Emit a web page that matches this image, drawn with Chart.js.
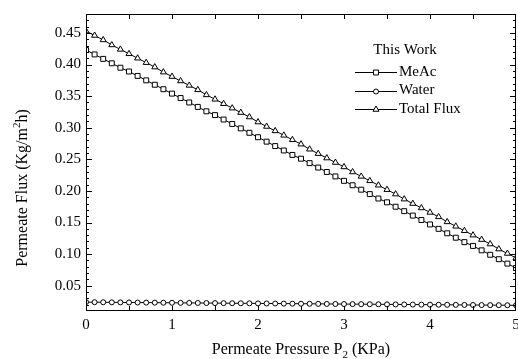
<!DOCTYPE html>
<html>
<head>
<meta charset="utf-8">
<script src="https://cdn.jsdelivr.net/npm/chart.js"></script>
<style>
  html, body { margin: 0; padding: 0; background: #fff; }
  #chart { display: block; }
</style>
</head>
<body>
<canvas id="chart" width="518" height="359"></canvas>
<script>
// permeate pressure P2 (KPa), one point every 0.1
const pressure = [
  0.0, 0.1, 0.2, 0.3, 0.4, 0.5, 0.6, 0.7, 0.8, 0.9,
  1.0, 1.1, 1.2, 1.3, 1.4, 1.5, 1.6, 1.7, 1.8, 1.9,
  2.0, 2.1, 2.2, 2.3, 2.4, 2.5, 2.6, 2.7, 2.8, 2.9,
  3.0, 3.1, 3.2, 3.3, 3.4, 3.5, 3.6, 3.7, 3.8, 3.9,
  4.0, 4.1, 4.2, 4.3, 4.4, 4.5, 4.6, 4.7, 4.8, 4.9,
  5.0
]

const meac = [
  0.423, 0.416, 0.409, 0.402, 0.395, 0.389, 0.382, 0.375, 0.368, 0.361,
  0.354, 0.347, 0.340, 0.333, 0.326, 0.320, 0.313, 0.306, 0.299, 0.292,
  0.285, 0.278, 0.271, 0.264, 0.257, 0.251, 0.244, 0.237, 0.230, 0.223,
  0.216, 0.209, 0.202, 0.195, 0.188, 0.182, 0.175, 0.168, 0.161, 0.154,
  0.147, 0.140, 0.133, 0.126, 0.119, 0.113, 0.106, 0.099, 0.092, 0.085,
  0.078
]

const water = [
  0.0240, 0.0239, 0.0238, 0.0237, 0.0236, 0.0235, 0.0234, 0.0233, 0.0232, 0.0231,
  0.0230, 0.0229, 0.0228, 0.0227, 0.0226, 0.0225, 0.0224, 0.0223, 0.0222, 0.0221,
  0.0220, 0.0219, 0.0218, 0.0217, 0.0216, 0.0215, 0.0214, 0.0213, 0.0212, 0.0211,
  0.0210, 0.0209, 0.0208, 0.0207, 0.0206, 0.0205, 0.0204, 0.0203, 0.0202, 0.0201,
  0.0200, 0.0199, 0.0198, 0.0197, 0.0196, 0.0195, 0.0194, 0.0193, 0.0192, 0.0191,
  0.0190
]

const totalFlux = [
  0.453, 0.446, 0.439, 0.431, 0.424, 0.417, 0.410, 0.403, 0.396, 0.388,
  0.381, 0.374, 0.367, 0.360, 0.352, 0.345, 0.338, 0.331, 0.324, 0.317,
  0.309, 0.302, 0.295, 0.288, 0.281, 0.274, 0.266, 0.259, 0.252, 0.245,
  0.238, 0.230, 0.223, 0.216, 0.209, 0.202, 0.195, 0.187, 0.180, 0.173,
  0.166, 0.159, 0.151, 0.144, 0.137, 0.130, 0.123, 0.116, 0.108, 0.101,
  0.094
]

const seriesNames = ['MeAc', 'Water', 'Total Flux']
const legendTitle = 'This Work'

const xTicks = [0, 1, 2, 3, 4, 5]
const xTickMarks = [0.5, 1, 1.5, 2, 2.5, 3, 3.5, 4, 4.5]
const yTicks = [0.05, 0.10, 0.15, 0.20, 0.25, 0.30, 0.35, 0.40, 0.45]

const FONT = "'Liberation Serif', 'Times New Roman', serif"
Chart.defaults.font.family = FONT
Chart.defaults.color = '#000'

function points(ys){
  return pressure.map((x, i) => ({ x: x, y: ys[i] }))
}

function serie(label, ys, style, radius){
  return {
    label: label,
    data: points(ys),
    borderColor: '#000',
    borderWidth: 1,
    pointStyle: style,
    pointRadius: radius,
    pointBorderWidth: 1,
    pointBorderColor: '#000',
    pointBackgroundColor: '#fff',
    tension: 0
  }
}

// box, inward ticks, x tick labels, axis titles and legend
const framePlugin = {
  id: 'frame',
  afterDraw(chart){
    const ctx = chart.ctx
    const a = chart.chartArea
    const xs = chart.scales.x
    const ys = chart.scales.y

    ctx.save()
    ctx.strokeStyle = '#000'
    ctx.lineWidth = 1
    ctx.strokeRect(Math.round(a.left) + 0.5, Math.round(a.top) + 0.5,
                   Math.round(a.right - a.left) - 1, Math.round(a.bottom - a.top) - 1)

    ctx.beginPath()
    xTickMarks.forEach(v => {
      const px = Math.round(xs.getPixelForValue(v)) + 0.5
      ctx.moveTo(px, a.bottom); ctx.lineTo(px, a.bottom - 5)
      ctx.moveTo(px, a.top); ctx.lineTo(px, a.top + 5)
    })
    for(let k = 1; k <= 48; k++){
      const v = k / 100
      const major = k % 5 == 0
      const len = major ? 6 : 3
      const py = Math.round(ys.getPixelForValue(v)) + 0.5
      if(py < a.top + 1 || py > a.bottom - 1) continue
      ctx.moveTo(a.left, py); ctx.lineTo(a.left + len, py)
      ctx.moveTo(a.right, py); ctx.lineTo(a.right - len, py)
    }
    ctx.stroke()

    ctx.fillStyle = '#000'

    // x tick labels
    ctx.font = '15px ' + FONT
    ctx.textAlign = 'center'
    ctx.textBaseline = 'middle'
    xTicks.forEach(v => {
      ctx.fillText(String(v), xs.getPixelForValue(v), a.bottom + 14)
    })

    // x title with subscript
    const big = '16px ' + FONT
    const small = '11px ' + FONT
    ctx.font = big
    const p1 = 'Permeate Pressure P', p3 = ' (KPa)'
    const w1 = ctx.measureText(p1).width
    const w3 = ctx.measureText(p3).width
    ctx.font = small
    const w2 = ctx.measureText('2').width
    let x0 = (a.left + a.right) / 2 - (w1 + w2 + w3) / 2
    const by = 354
    ctx.textBaseline = 'alphabetic'
    ctx.textAlign = 'left'
    ctx.font = big
    ctx.fillText(p1, x0, by)
    ctx.font = small
    ctx.fillText('2', x0 + w1, by + 4)
    ctx.font = big
    ctx.fillText(p3, x0 + w1 + w2, by)

    // y title with superscript
    ctx.save()
    ctx.translate(27, 188)
    ctx.rotate(-Math.PI / 2)
    const q1 = 'Permeate Flux (Kg/m', q3 = 'h)'
    ctx.font = big
    const v1 = ctx.measureText(q1).width
    const v3 = ctx.measureText(q3).width
    ctx.font = small
    const v2 = ctx.measureText('2').width
    x0 = -(v1 + v2 + v3) / 2
    ctx.font = big
    ctx.fillText(q1, x0, 0)
    ctx.font = small
    ctx.fillText('2', x0 + v1, -7)
    ctx.font = big
    ctx.fillText(q3, x0 + v1 + v2, 0)
    ctx.restore()

    // legend
    ctx.font = '15px ' + FONT
    ctx.textAlign = 'center'
    ctx.textBaseline = 'middle'
    ctx.fillText(legendTitle, 405, 50)
    ctx.textAlign = 'left'
    chart.data.datasets.forEach((ds, i) => {
      const y = 72 + i * 18.5
      ctx.beginPath()
      ctx.moveTo(355, Math.round(y) + 0.5)
      ctx.lineTo(397, Math.round(y) + 0.5)
      ctx.stroke()
      ctx.fillStyle = '#fff'
      Chart.helpers.drawPoint(ctx, {
        pointStyle: ds.pointStyle, radius: ds.pointRadius, borderWidth: 1
      }, 376, Math.round(y) + 0.5)
      ctx.fillStyle = '#000'
      ctx.fillText(ds.label, 399, y)
    })
    ctx.restore()
  }
}

const chart = new Chart(document.getElementById('chart'), {
  type: 'line',
  data: {
    datasets: [
      serie(seriesNames[0], meac, 'rect', 3.5),
      serie(seriesNames[1], water, 'circle', 2.5),
      serie(seriesNames[2], totalFlux, 'triangle', 3.5)
    ]
  },
  options: {
    responsive: false,
    animation: false,
    devicePixelRatio: 1,
    layout: { autoPadding: false, padding: { top: 12, right: 2, left: 0, bottom: 0 } },
    plugins: {
      legend: { display: false },
      tooltip: { enabled: false }
    },
    scales: {
      x: {
        type: 'linear',
        min: 0,
        max: 5,
        afterBuildTicks: scale => { scale.ticks = xTicks.map(v => ({ value: v })) },
        afterFit: scale => { scale.height = 48 },
        grid: { display: false, drawTicks: false },
        border: { display: false },
        ticks: { display: false }
      },
      y: {
        min: 0.01,
        max: 0.48,
        afterBuildTicks: scale => { scale.ticks = yTicks.map(v => ({ value: v })) },
        afterFit: scale => { scale.width = 86 },
        grid: { display: false, drawTicks: false },
        border: { display: false },
        ticks: {
          color: '#000',
          font: { family: FONT, size: 15 },
          padding: 5,
          callback: v => Number(v).toFixed(2)
        }
      }
    }
  },
  plugins: [framePlugin]
})
</script>
</body>
</html>
